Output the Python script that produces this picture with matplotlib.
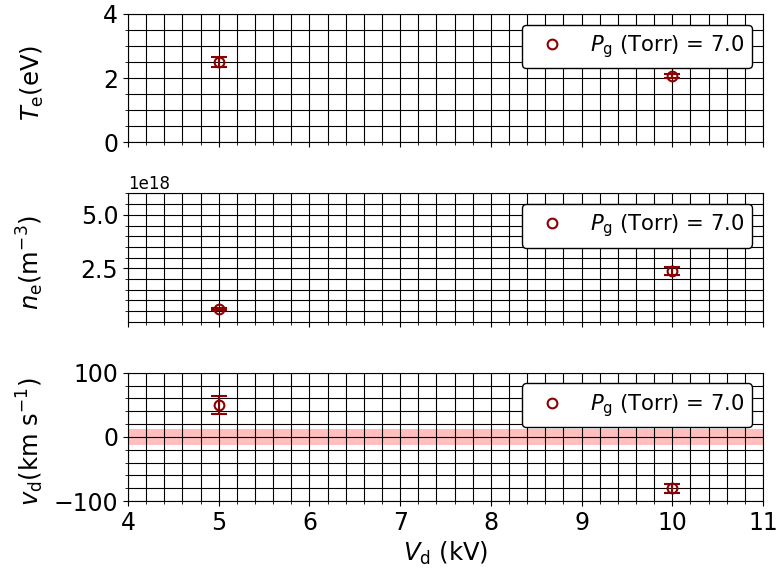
import matplotlib
matplotlib.use("Agg")
import matplotlib.pyplot as plt
from matplotlib.ticker import MultipleLocator

# Data
Vd_kV = [5.0, 10.0]
Te_eV = [2.5, 2.07]
Te_err = [0.15, 0.07]
ne_m3 = [0.6e18, 2.38e18]
ne_err = [0.05e18, 0.2e18]
vd_kms = [50.0, -80.0]
vd_err = [14.0, 7.0]
legend_label = r"$P_\mathrm{g}$ (Torr) = 7.0"
band_half = 12.5

color = "darkred"
fs_tick = 17
fs_lab = 17.5

fig, axes = plt.subplots(3, 1, figsize=(7.83, 5.76), dpi=100, sharex=True)
fig.subplots_adjust(left=0.1635, right=0.9745, top=0.9757, bottom=0.1302, hspace=0.4)

series = [
    (Te_eV, Te_err, r"$T_\mathrm{e}$(eV)", (0, 4), 2, 0.5),
    (ne_m3, ne_err, r"$n_\mathrm{e}$(m$^{-3}$)", (0.01e18, 6e18), 2.5e18, 0.5e18),
    (vd_kms, vd_err, r"$v_\mathrm{d}$(km s$^{-1}$)", (-100, 100), 100, 20),
]

for ax, (y, yerr, lab, ylim, maj, mnr) in zip(axes, series):
    if ax is axes[2]:
        ax.axhspan(-band_half, band_half, color="red", alpha=0.25, lw=0)
    eb = ax.errorbar(Vd_kV, y, yerr=yerr, fmt="o", mfc="none", mec=color, ecolor=color,
                     ms=7, mew=1.5, elinewidth=1.5, capsize=6, capthick=1.5)
    ax.set_xlim(4, 11)
    ax.set_ylim(*ylim)
    ax.xaxis.set_major_locator(MultipleLocator(1))
    ax.xaxis.set_minor_locator(MultipleLocator(0.2))
    ax.yaxis.set_major_locator(MultipleLocator(maj))
    ax.yaxis.set_minor_locator(MultipleLocator(mnr))
    ax.grid(which="both", color="black", linewidth=0.8)
    ax.tick_params(labelsize=fs_tick)
    ax.set_ylabel(lab, fontsize=fs_lab)
    ax.yaxis.set_label_coords(-0.129, 0.46)
    ax.legend(handles=[eb[0]], labels=[legend_label], loc="upper right",
              fontsize=15.2, framealpha=1, edgecolor="black")
    ax.yaxis.get_offset_text().set_fontsize(12)

axes[2].set_xlabel(r"$V_\mathrm{d}$ (kV)", fontsize=fs_lab)

fig.savefig("out.png", dpi=100)
